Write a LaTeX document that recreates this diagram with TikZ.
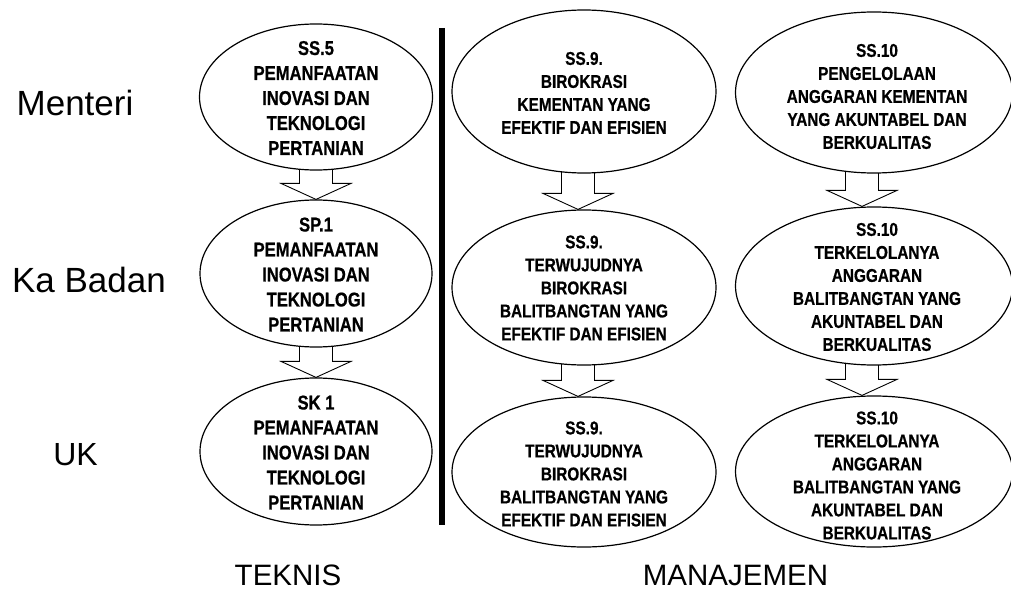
\documentclass[tikz,border=0pt]{standalone}
\usepackage{fontspec}
\setmainfont{Liberation Sans}
\newfontfamily\goalfont[FakeStretch=0.83,FakeBold=0.6]{Liberation Sans Bold}
\usetikzlibrary{shapes.geometric}
\usetikzlibrary{calc}
\pgfdeclarelayer{bg}
\pgfsetlayers{bg,main}

\tikzset{
    goal/.style={ellipse, draw, line width=1.2pt, fill=white, inner sep=0pt},
    goaltext/.style={align=center, inner sep=0pt, font=\goalfont\fontsize{18.5}{23}\selectfont},
    goalbig/.style={align=center, inner sep=0pt, font=\goalfont\fontsize{20}{25}\selectfont},
    level/.style={inner sep=0pt, font=\fontsize{35}{40}\selectfont},
    group/.style={inner sep=0pt, font=\fontsize{29.5}{34}\selectfont},
    fatarrow/.style={draw, line width=0.9pt, fill=white, line join=miter},
    divider/.style={line width=6pt}
}

% block arrow from the bottom of one ellipse to the top of the next
\newcommand{\fatarrow}[3][0]{%
    \begin{pgfonlayer}{bg}
    \draw[fatarrow] let \p1=($(#2.south)+(#1,4)$), \p2=($(#3.north)+(#1,0)$) in
        ({\x1-16.5pt},\y1) -- ({\x1-16.5pt},{\y2+16pt}) -- ({\x1-35pt},{\y2+16pt})
        -- (\x1,\y2) -- ({\x1+35pt},{\y2+16pt}) -- ({\x1+16.5pt},{\y2+16pt})
        -- ({\x1+16.5pt},\y1);
    \end{pgfonlayer}}

\begin{document}
\begin{tikzpicture}[x=1pt,y=1pt]
    \useasboundingbox (0,0) rectangle (1011,590);

    % levels
    \node[level] (menteri) at (75,487.5) {Menteri};
    \node[level] (kabadan) at (89,310) {Ka Badan};
    \node[level, font=\fontsize{32}{36}\selectfont] (uk) at (75.5,135) {UK};

    % teknis
    \node[goal, minimum width=233pt, minimum height=146pt,
        label={[goalbig,yshift=-1pt]center:{SS.5\\PEMANFAATAN\\INOVASI DAN\\TEKNOLOGI\\PERTANIAN}}]
        (ss5) at (316,493) {};
    \node[goal, minimum width=232pt, minimum height=147pt,
        label={[goalbig,yshift=-1pt]center:{SP.1\\PEMANFAATAN\\INOVASI DAN\\TEKNOLOGI\\PERTANIAN}}]
        (sp1) at (316,316.5) {};
    \node[goal, minimum width=232pt, minimum height=147pt,
        label={[goalbig,yshift=-1pt]center:{SK 1\\PEMANFAATAN\\INOVASI DAN\\TEKNOLOGI\\PERTANIAN}}]
        (sk1) at (316,138.5) {};

    % manajemen
    \node[goal, minimum width=264pt, minimum height=163pt,
        label={[goaltext,yshift=-1.5pt]center:{SS.9.\\BIROKRASI\\KEMENTAN YANG\\EFEKTIF DAN EFISIEN}}]
        (ss9a) at (584,498.5) {};
    \node[goal, minimum width=264pt, minimum height=155pt,
        label={[goaltext,yshift=-0.5pt]center:{SS.9.\\TERWUJUDNYA\\BIROKRASI\\BALITBANGTAN YANG\\EFEKTIF DAN EFISIEN}}]
        (ss9b) at (584,302.5) {};
    \node[goal, minimum width=264pt, minimum height=150pt,
        label={[goaltext,yshift=-2pt]center:{SS.9.\\TERWUJUDNYA\\BIROKRASI\\BALITBANGTAN YANG\\EFEKTIF DAN EFISIEN}}]
        (ss9c) at (584,118) {};

    \node[goal, minimum width=277pt, minimum height=161pt,
        label={[goaltext,xshift=3pt,yshift=-4pt]center:{SS.10\\PENGELOLAAN\\ANGGARAN KEMENTAN\\YANG AKUNTABEL DAN\\BERKUALITAS}}]
        (ss10a) at (874,497.5) {};
    \node[goal, minimum width=277pt, minimum height=158pt,
        label={[goaltext,xshift=3pt,yshift=-1pt]center:{SS.10\\TERKELOLANYA\\ANGGARAN\\BALITBANGTAN YANG\\AKUNTABEL DAN\\BERKUALITAS}}]
        (ss10b) at (874,304) {};
    \node[goal, minimum width=277pt, minimum height=151pt,
        label={[goaltext,xshift=3pt,yshift=-4pt]center:{SS.10\\TERKELOLANYA\\ANGGARAN\\BALITBANGTAN YANG\\AKUNTABEL DAN\\BERKUALITAS}}]
        (ss10c) at (874,118.5) {};

    \fatarrow{ss5}{sp1}
    \fatarrow{sp1}{sk1}
    \fatarrow[-6]{ss9a}{ss9b}
    \fatarrow[-6]{ss9b}{ss9c}
    \fatarrow[-12]{ss10a}{ss10b}
    \fatarrow[-12]{ss10b}{ss10c}

    % separator
    \coordinate (divtop) at (441.5,562);
    \coordinate (divbot) at (441.5,65);
    \draw[divider] (divtop) -- (divbot);

    \node[group] (teknis) at (288,14.5) {TEKNIS};
    \node[group] (manajemen) at (735.5,14.5) {MANAJEMEN};
\end{tikzpicture}
\end{document}
